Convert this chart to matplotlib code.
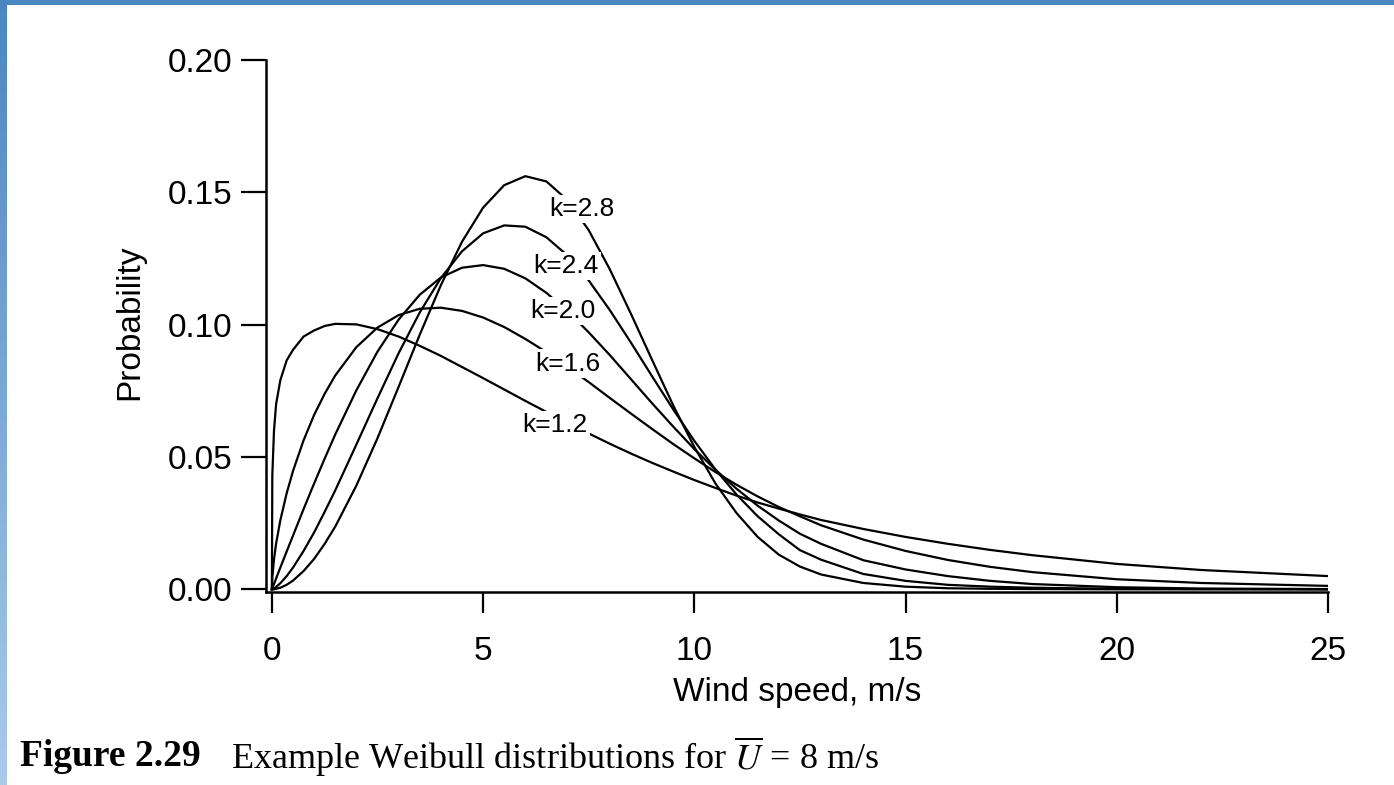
import numpy as np
import matplotlib
matplotlib.use('Agg')
import matplotlib.pyplot as plt
from matplotlib.patches import Rectangle
from matplotlib.colors import LinearSegmentedColormap

plt.rcParams['font.family'] = ['Liberation Sans', 'DejaVu Sans']
plt.rcParams['mathtext.fontset'] = 'stix'

# wind speed (m/s) and probability values
wind_speed = [0, 0.01, 0.05, 0.1, 0.2, 0.35, 0.5, 0.75, 1, 1.25, 1.5, 2, 2.5, 3,
              3.5, 4, 4.5, 5, 5.5, 6, 6.5, 7, 7.5, 8, 8.5, 9, 9.5, 10, 10.5,
              11, 11.5, 12, 12.5, 13, 14, 15, 16, 17, 18, 20, 22, 25]

p_k12 = [0, 0.043, 0.060, 0.070, 0.079, 0.0865, 0.0905, 0.0955, 0.0978, 0.0995,
         0.1003, 0.1001, 0.0983, 0.0955, 0.0920, 0.0882, 0.0840, 0.0798, 0.0755,
         0.0712, 0.0670, 0.0629, 0.0589, 0.0550, 0.0513, 0.0478, 0.0445, 0.0413,
         0.0383, 0.0354, 0.0328, 0.0305, 0.0283, 0.0262, 0.0228, 0.0198, 0.0172,
         0.0149, 0.0129, 0.0096, 0.0073, 0.0050]
p_k16 = [0, 0.0043, 0.0114, 0.0173, 0.0261, 0.0363, 0.0447, 0.0563, 0.0659, 0.0739,
         0.0808, 0.0915, 0.0989, 0.1036, 0.1060, 0.1064, 0.1052, 0.1027, 0.0991,
         0.0946, 0.0896, 0.0840, 0.0783, 0.0723, 0.0664, 0.0606, 0.0549, 0.0495,
         0.0443, 0.0395, 0.0351, 0.0311, 0.0276, 0.0242, 0.0188, 0.0145, 0.0111,
         0.0085, 0.0065, 0.0038, 0.0024, 0.0013]
p_k20 = [0, 0.0004, 0.0020, 0.0041, 0.0082, 0.0143, 0.0203, 0.0303, 0.0400, 0.0494,
         0.0585, 0.0752, 0.0898, 0.1019, 0.1113, 0.1178, 0.1215, 0.1225, 0.1211,
         0.1175, 0.1120, 0.1051, 0.0971, 0.0885, 0.0794, 0.0703, 0.0615, 0.0530,
         0.0452, 0.0380, 0.0316, 0.0260, 0.0210, 0.0172, 0.0110, 0.0075, 0.0050,
         0.0032, 0.0020, 0.0008, 0.0003, 0.0001]
p_k24 = [0, 0, 0.0003, 0.0009, 0.0023, 0.0050, 0.0082, 0.0145, 0.0215, 0.0293,
         0.0374, 0.0547, 0.0722, 0.0892, 0.1046, 0.1176, 0.1277, 0.1345, 0.1375,
         0.1370, 0.1330, 0.1261, 0.1167, 0.1055, 0.0932, 0.0805, 0.0680, 0.0561,
         0.0453, 0.0358, 0.0276, 0.0208, 0.0148, 0.0112, 0.0058, 0.0032, 0.0017,
         0.0010, 0.0006, 0.0002, 0.0001, 0]
p_k28 = [0, 0, 0, 0.0002, 0.0006, 0.0017, 0.0033, 0.0069, 0.0115, 0.0172,
         0.0237, 0.0392, 0.0571, 0.0765, 0.0962, 0.1149, 0.1313, 0.1442, 0.1527,
         0.1561, 0.1541, 0.1470, 0.1357, 0.1209, 0.1041, 0.0867, 0.0695, 0.0538,
         0.0400, 0.0288, 0.0198, 0.0131, 0.0086, 0.0056, 0.0024, 0.0010, 0.0004,
         0.0002, 0.0001, 0, 0, 0]

curves = [p_k12, p_k16, p_k20, p_k24, p_k28]
labels = ['k=1.2', 'k=1.6', 'k=2.0', 'k=2.4', 'k=2.8']
# label anchor points (wind speed, probability)
label_x = [6.71, 7.0, 6.88, 6.97, 7.35]
label_y = [0.0619, 0.0853, 0.1053, 0.1223, 0.1438]

xticks = [0, 5, 10, 15, 20, 25]
yticks = [0.00, 0.05, 0.10, 0.15, 0.20]

fig = plt.figure(figsize=(13.94, 7.85), dpi=100)
ax = fig.add_axes([0.1908, 0.2459, 0.7618, 0.6777])

for p in curves:
    ax.plot(wind_speed, p, color='black', lw=1.6, solid_joinstyle='round', zorder=2)

for lab, lx, ly in zip(labels, label_x, label_y):
    ax.text(lx, ly, lab, fontsize=19, ha='center', va='center', zorder=3,
            bbox=dict(facecolor='white', edgecolor='none', pad=1.5))

ax.set_xlim(-0.14, 25)
ax.set_ylim(-0.001, 0.2)
ax.set_xticks(xticks)
ax.set_xticklabels([str(t) for t in xticks])
ax.set_yticks(yticks)
ax.set_yticklabels([f'{t:.2f}' for t in yticks])
ax.tick_params(axis='y', direction='out', length=18, width=1.6, pad=6, labelsize=24)
ax.tick_params(axis='x', direction='out', length=15, width=1.6, pad=17, labelsize=24)

for side in ['top', 'right']:
    ax.spines[side].set_visible(False)
for side in ['left', 'bottom']:
    ax.spines[side].set_linewidth(1.8)
ax.spines['left'].set_bounds(-0.001, 0.2)

ax.set_xlabel('Wind speed, m/s', fontsize=24, labelpad=7)
ax.set_ylabel('Probability', fontsize=24)
ax.yaxis.set_label_coords(-0.114, 0.507)

# caption under the chart
fig.text(0.0143, 0.0357, 'Figure 2.29', fontsize=27, fontweight='bold',
         family='Liberation Serif', va='center', ha='left')
fig.text(0.166, 0.0357, r'Example Weibull distributions for $\overline{U}$ = 8 m/s',
         fontsize=26, family='Liberation Serif', va='center', ha='left')

# blue page border (top bar and fading left bar)
fig.patches.append(Rectangle((0, 1 - 5 / 785), 1, 5 / 785, transform=fig.transFigure,
                             facecolor='#4a86c0', edgecolor='none', zorder=5))
bar = fig.add_axes([0, 0, 7 / 1394, 1])
grad = LinearSegmentedColormap.from_list('edge', ['#4a86c0', '#a9cbea'])
bar.imshow(np.linspace(0, 1, 256).reshape(-1, 1), cmap=grad, aspect='auto')
bar.set_axis_off()

fig.savefig('out.png', dpi=100)
